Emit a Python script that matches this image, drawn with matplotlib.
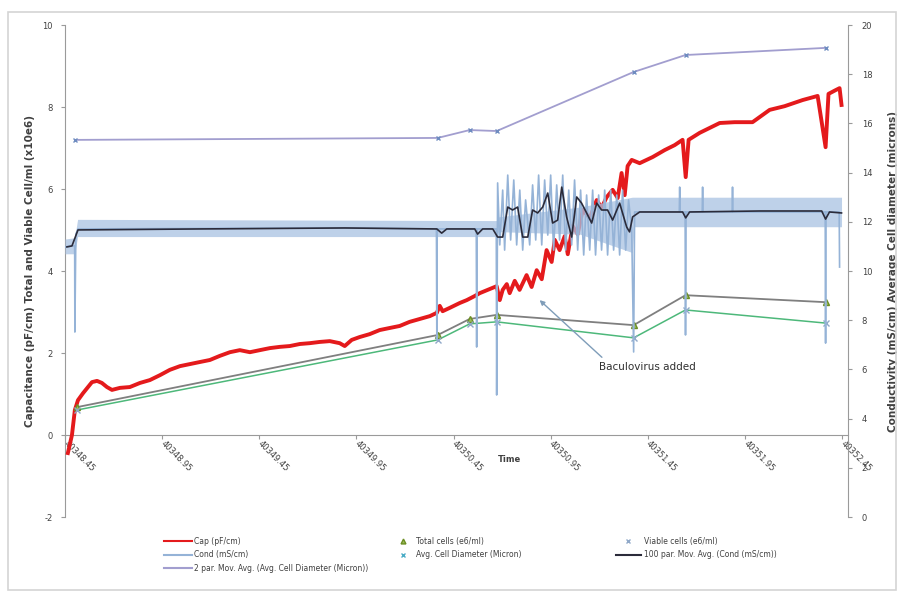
import numpy as np
import matplotlib
matplotlib.use("Agg")
import matplotlib.pyplot as plt
from matplotlib.patches import Rectangle
from matplotlib.lines import Line2D

plt.rcParams["axes.unicode_minus"] = False

# --- datos (tiempo en serial de Excel) ---
cap_t = [40348.465, 40348.486, 40348.501, 40348.517, 40348.543, 40348.589, 40348.615, 40348.640,
         40348.666, 40348.692, 40348.733, 40348.784, 40348.836, 40348.887, 40348.939, 40348.990,
         40349.042, 40349.093, 40349.144, 40349.196, 40349.247, 40349.299, 40349.350, 40349.402,
         40349.453, 40349.505, 40349.556, 40349.607, 40349.659, 40349.710, 40349.761, 40349.813,
         40349.864, 40349.890, 40349.926, 40349.967, 40350.018, 40350.070, 40350.121, 40350.173,
         40350.224, 40350.276, 40350.328, 40350.364, 40350.379, 40350.394, 40350.430, 40350.482,
         40350.518, 40350.559, 40350.585, 40350.636, 40350.672, 40350.688, 40350.703, 40350.724,
         40350.739, 40350.765, 40350.790, 40350.826, 40350.852, 40350.878, 40350.904, 40350.929,
         40350.955, 40350.971, 40350.996, 40351.022, 40351.038, 40351.063, 40351.089, 40351.115,
         40351.151, 40351.187, 40351.212, 40351.238, 40351.269, 40351.295, 40351.315, 40351.331,
         40351.346, 40351.367, 40351.408, 40351.475, 40351.537, 40351.588, 40351.629, 40351.645,
         40351.660, 40351.717, 40351.820, 40351.897, 40351.989, 40352.077, 40352.154, 40352.247,
         40352.324, 40352.365, 40352.380, 40352.416, 40352.437, 40352.447]
cap_v = [-0.44, 0.00, 0.61, 0.85, 1.02, 1.29, 1.32, 1.27,
         1.17, 1.10, 1.15, 1.17, 1.27, 1.34, 1.46, 1.59,
         1.68, 1.73, 1.78, 1.83, 1.93, 2.02, 2.07, 2.02,
         2.07, 2.12, 2.15, 2.17, 2.22, 2.24, 2.27, 2.29,
         2.24, 2.17, 2.32, 2.39, 2.46, 2.56, 2.61, 2.66,
         2.76, 2.83, 2.90, 2.98, 3.15, 3.02, 3.10, 3.22,
         3.29, 3.39, 3.46, 3.56, 3.63, 3.29, 3.54, 3.68,
         3.46, 3.76, 3.54, 3.90, 3.61, 4.02, 3.80, 4.51,
         4.22, 4.76, 4.51, 4.85, 4.41, 5.10, 4.90, 5.49,
         5.29, 5.73, 5.54, 5.80, 5.98, 5.78, 6.39, 5.85,
         6.56, 6.71, 6.63, 6.78, 6.95, 7.07, 7.20, 6.29,
         7.20, 7.37, 7.61, 7.63, 7.63, 7.93, 8.02, 8.17,
         8.27, 7.02, 8.32, 8.41, 8.46, 8.05]

muestra_t = [40348.512, 40350.369, 40350.533, 40350.672, 40351.377, 40351.644, 40352.365]
total_v = [0.68, 2.44, 2.83, 2.93, 2.68, 3.41, 3.24]
viables_v = [0.61, 2.32, 2.71, 2.76, 2.37, 3.05, 2.73]
diametro_t = [40348.501, 40350.369, 40350.533, 40350.672, 40351.377, 40351.644, 40352.365]
diametro_v = [15.33, 15.41, 15.73, 15.69, 18.09, 18.78, 19.07]

cond_t = [40348.450, 40348.486, 40348.500, 40348.501, 40348.506, 40348.517, 40349.890, 40350.362,
          40350.364, 40350.366, 40350.567, 40350.569, 40350.571, 40350.670, 40350.672, 40350.677,
          40350.688, 40350.703, 40350.713, 40350.729, 40350.744, 40350.760, 40350.775, 40350.791,
          40350.806, 40350.821, 40350.842, 40350.857, 40350.873, 40350.888, 40350.904, 40350.919,
          40350.935, 40350.950, 40350.965, 40350.981, 40350.996, 40351.012, 40351.027, 40351.043,
          40351.058, 40351.073, 40351.089, 40351.104, 40351.120, 40351.135, 40351.151, 40351.166,
          40351.181, 40351.197, 40351.212, 40351.228, 40351.243, 40351.259, 40351.274, 40351.290,
          40351.305, 40351.320, 40351.336, 40351.351, 40351.367, 40351.377, 40351.382, 40351.612,
          40351.614, 40351.616, 40351.642, 40351.644, 40351.647, 40351.730, 40351.732, 40351.734,
          40351.884, 40351.886, 40351.888, 40352.363, 40352.365, 40352.367, 40352.435, 40352.437]
cond_v = [10.98, 11.02, 11.02, 7.52, 11.50, 11.71, 11.75, 11.71,
          7.20, 11.71, 11.71, 6.91, 11.71, 11.71, 4.96, 13.58,
          11.06, 13.29, 10.85, 13.90, 11.26, 13.70, 11.06, 13.29,
          10.85, 12.89, 11.06, 13.50, 11.26, 13.90, 11.06, 13.70,
          11.46, 13.90, 10.85, 13.50, 11.26, 13.90, 10.85, 13.29,
          11.06, 13.70, 10.85, 13.29, 10.65, 13.09, 10.85, 13.29,
          10.65, 13.09, 10.85, 13.29, 10.65, 13.29, 10.85, 13.09,
          10.65, 13.29, 10.85, 12.89, 11.67, 6.71, 12.40, 12.40,
          13.41, 12.40, 12.40, 7.40, 12.40, 12.40, 13.41, 12.40,
          12.40, 13.41, 12.40, 12.40, 7.07, 12.40, 12.40, 10.16]

banda_t = [40348.450, 40348.500, 40348.515, 40350.670, 40350.680, 40351.100, 40351.370, 40351.380, 40352.447]
banda_lo = [10.70, 10.70, 11.40, 11.40, 11.60, 11.50, 10.75, 11.80, 11.80]
banda_hi = [11.30, 11.35, 12.10, 12.05, 12.20, 12.60, 13.00, 13.00, 13.00]

mm_t = [40348.460, 40348.486, 40348.517, 40349.144, 40349.890, 40350.364, 40350.389, 40350.415,
        40350.559, 40350.574, 40350.600, 40350.652, 40350.677, 40350.703, 40350.729, 40350.754,
        40350.780, 40350.806, 40350.832, 40350.857, 40350.883, 40350.909, 40350.935, 40350.960,
        40350.986, 40351.007, 40351.032, 40351.058, 40351.084, 40351.109, 40351.135, 40351.161,
        40351.187, 40351.212, 40351.243, 40351.269, 40351.305, 40351.341, 40351.356, 40351.372,
        40351.408, 40351.629, 40351.645, 40351.665, 40352.025, 40352.345, 40352.365, 40352.385,
        40352.447]
mm_v = [10.98, 11.02, 11.67, 11.71, 11.75, 11.71, 11.54, 11.71,
        11.71, 11.50, 11.71, 11.71, 11.38, 11.38, 12.60, 12.48,
        12.60, 11.38, 11.38, 12.48, 12.36, 12.60, 13.17, 11.95,
        12.07, 13.41, 12.20, 11.38, 13.01, 12.76, 12.36, 11.95,
        12.76, 12.48, 12.48, 12.07, 12.76, 11.79, 11.59, 12.20,
        12.40, 12.40, 12.16, 12.40, 12.44, 12.44, 12.11, 12.40,
        12.36]

ticks_x = [40348.45, 40348.95, 40349.45, 40349.95, 40350.45, 40350.95, 40351.45, 40351.95, 40352.45]
etiquetas_x = ["40348.45", "40348.95", "40349.45", "40349.95", "40350.45",
               "40350.95", "40351.45", "40351.95", "40352.45"]

gris = "#9A9A9A"
texto = "#404040"

fig = plt.figure(figsize=(9.01, 5.94), dpi=100)
fig.patches.append(Rectangle((8 / 901, 1 - 590 / 594), 888 / 901, 578 / 594, transform=fig.transFigure,
                             fill=False, edgecolor="#D4D4D4", linewidth=1.2))

ax = fig.add_axes([0.0721, 0.1296, 0.8690, 0.8283])
ax.set_xlim(40348.45, 40352.48)
ax.set_ylim(-2, 10)
ax.set_yticks(range(-2, 11, 2))
ax.set_xticks(ticks_x)
ax.set_xticklabels(etiquetas_x)
ax.spines["bottom"].set_position(("data", 0))
for s in ["top", "right"]:
    ax.spines[s].set_visible(False)
for s in ["left", "bottom"]:
    ax.spines[s].set_color(gris)
ax.tick_params(axis="y", length=3, color=gris, labelsize=6, labelcolor=texto, pad=6)
ax.tick_params(axis="x", length=3, color=gris, labelsize=6, labelcolor=texto, pad=2)
ax.set_ylabel("Capacitance (pF/cm) Total and Viable Cell/ml (x10e6)", fontsize=7.5,
              fontweight="bold", color=texto)
ax.yaxis.set_label_coords(-0.038, 0.5)

ax.plot(cap_t, cap_v, color="#E41A1C", linewidth=2.8, zorder=3)
ax.plot(muestra_t, total_v, color="#7F7F7F", linewidth=1.3, zorder=4)
ax.plot(muestra_t, viables_v, color="#4DB87A", linewidth=1.1, zorder=4)
ax.plot(muestra_t, total_v, linestyle="none", marker="^", markersize=4,
        markerfacecolor="#9BBB59", markeredgecolor="#6B8E23", zorder=5)
ax.plot(muestra_t, viables_v, linestyle="none", marker="x", markersize=4,
        markeredgecolor="#8FA8C8", zorder=5)

ax.text(40350.74, -0.6, "Time", fontsize=6, fontweight="bold", color=texto, ha="center", va="center")
ax.annotate("Baculovirus added", xy=(40350.893, 3.29), xytext=(40351.20, 1.66),
            fontsize=7.5, color="#303030", va="center", ha="left",
            arrowprops=dict(arrowstyle="-|>", color="#7F9DB9", linewidth=1, shrinkA=2, shrinkB=0,
                            mutation_scale=7, relpos=(0.08, 1.0)), zorder=8)

ax2 = ax.twinx()
ax2.set_ylim(0, 20)
ax2.set_yticks(range(0, 21, 2))
for s in ["top", "left", "bottom"]:
    ax2.spines[s].set_visible(False)
ax2.spines["right"].set_color(gris)
ax2.tick_params(axis="y", length=3, color=gris, labelsize=6, labelcolor=texto, pad=7)
ax2.set_ylabel("Conductivity (mS/cm) Average Cell diameter (microns)", fontsize=7.5,
               fontweight="bold", color=texto)
ax2.yaxis.set_label_coords(1.051, 0.5)

ax2.fill_between(banda_t, banda_lo, banda_hi, color="#A9C2E2", alpha=0.75, linewidth=0, zorder=1)
ax2.plot(cond_t, cond_v, color="#95B3D7", linewidth=1.2, zorder=2)
ax2.plot(mm_t, mm_v, color="#2B2B3A", linewidth=1.2, zorder=3)
ax2.plot(diametro_t, diametro_v, color="#A29ECF", linewidth=1.3, zorder=3)
ax2.plot(diametro_t, diametro_v, linestyle="none", marker="x", markersize=3.5,
         markeredgecolor="#6E8CC0", zorder=4)

# etiquetas del eje x giradas hacia abajo a la derecha
for lab in ax.get_xticklabels():
    lab.set_rotation(-45)
    lab.set_rotation_mode("anchor")
    lab.set_ha("left")
    lab.set_va("center")

# --- leyenda en tres columnas ---
h_cap = Line2D([], [], color="#E41A1C", linewidth=1.5)
h_cond = Line2D([], [], color="#95B3D7", linewidth=1.5)
h_diam_mm = Line2D([], [], color="#A29ECF", linewidth=1.5)
h_total = Line2D([], [], linestyle="none", marker="^", markersize=3.5,
                 markerfacecolor="#9BBB59", markeredgecolor="#6B8E23")
h_diam = Line2D([], [], linestyle="none", marker="x", markersize=3, markeredgecolor="#4BACC6")
h_viab = Line2D([], [], linestyle="none", marker="x", markersize=3, markeredgecolor="#8FA8C8")
h_mm = Line2D([], [], color="#2B2B3A", linewidth=1.5)

kw = dict(frameon=False, fontsize=5.5, labelcolor=texto, borderpad=0, labelspacing=0.6,
          loc="upper left")
fig.legend([h_cap, h_cond, h_diam_mm],
           ["Cap (pF/cm)", "Cond (mS/cm)", "2 par. Mov. Avg. (Avg. Cell Diameter (Micron))"],
           bbox_to_anchor=(0.1776, 0.1026), handlelength=3.7, handletextpad=0.3, **kw)
fig.legend([h_total, h_diam], ["Total cells (e6/ml)", "Avg. Cell Diameter (Micron)"],
           bbox_to_anchor=(0.435, 0.1026), handlelength=2, handletextpad=0.6, **kw)
fig.legend([h_viab, h_mm], ["Viable cells (e6/ml)", "100 par. Mov. Avg. (Cond (mS/cm))"],
           bbox_to_anchor=(0.679, 0.1026), handlelength=3.3, handletextpad=0.4, **kw)

fig.savefig("out.png", dpi=100)
